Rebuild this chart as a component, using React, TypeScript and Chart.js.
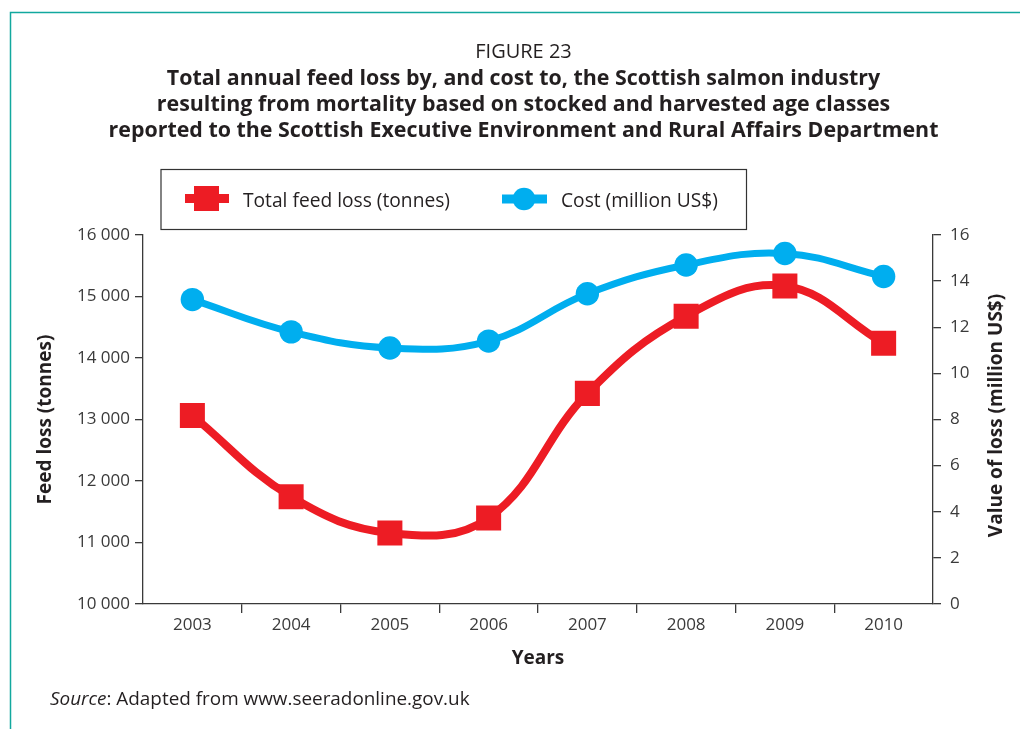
import React, { useEffect, useRef } from 'react';
import { Chart, registerables } from 'chart.js';

Chart.register(...registerables);

// ---------- data ----------
const years = ['2003', '2004', '2005', '2006', '2007', '2008', '2009', '2010'];
const feedLossTonnes = [13065, 11745, 11155, 11400, 13425, 14680, 15170, 14240];
const costMillionUSD = [13.2, 11.8, 11.1, 11.4, 13.45, 14.7, 15.2, 14.2];

const feedAxis = { min: 10000, max: 16000, step: 1000 };
const costAxis = { min: 0, max: 16, step: 2 };

const figureLabel = 'FIGURE 23';
const titleLines = [
  'Total annual feed loss by, and cost to, the Scottish salmon industry',
  'resulting from mortality based on stocked and harvested age classes',
  'reported to the Scottish Executive Environment and Rural Affairs Department',
];
const seriesLabels = ['Total feed loss (tonnes)', 'Cost (million US$)'];
const leftAxisTitle = 'Feed loss (tonnes)';
const rightAxisTitle = 'Value of loss (million US$)';
const xAxisTitle = 'Years';
const sourceItalic = 'Source';
const sourceRest = ': Adapted from www.seeradonline.gov.uk';

// ---------- style ----------
const RED = '#ED1C24';
const BLUE = '#00AEEF';
const TEXT = '#231F20';
const TICK_TEXT = '#3a3a3a';
const AXIS = '#3a3a3a';
const TEAL = '#12A89E';
const FONT = '"Open Sans", "Noto Sans", sans-serif';

const fmtThousands = (v: number) => {
  const s = String(Math.round(v));
  return s.replace(/\B(?=(\d{3})+(?!\d))/g, ' ');
};

const decorPlugin = {
  id: 'decor',
  beforeDraw(chart: any) {
    const ctx = chart.ctx as CanvasRenderingContext2D;
    ctx.save();
    ctx.fillStyle = '#ffffff';
    ctx.fillRect(0, 0, chart.width, chart.height);
    ctx.strokeStyle = TEAL;
    ctx.lineWidth = 1.5;
    ctx.beginPath();
    ctx.moveTo(10.5, chart.height);
    ctx.lineTo(10.5, 12.5);
    ctx.lineTo(chart.width, 12.5);
    ctx.stroke();
    ctx.restore();
  },
  afterDraw(chart: any) {
    const ctx = chart.ctx as CanvasRenderingContext2D;
    const area = chart.chartArea;
    ctx.save();
    ctx.fillStyle = TEXT;
    ctx.textBaseline = 'alphabetic';

    // titles
    const cx = 523.5;
    ctx.textAlign = 'center';
    ctx.font = `20px ${FONT}`;
    ctx.fillText(figureLabel, cx, 58);
    ctx.font = `bold 21.4px ${FONT}`;
    const baselines = [85, 111, 136.5];
    titleLines.forEach((l, i) => ctx.fillText(l, cx, baselines[i]));

    // legend box
    ctx.strokeStyle = '#333333';
    ctx.lineWidth = 1.2;
    ctx.strokeRect(161, 169.5, 585.5, 60);

    const ds = chart.data.datasets;
    const ly = 198.5;
    // red item
    ctx.strokeStyle = ds[0].borderColor;
    ctx.lineWidth = 9;
    ctx.lineCap = 'butt';
    ctx.beginPath();
    ctx.moveTo(185, ly);
    ctx.lineTo(229, ly);
    ctx.stroke();
    ctx.fillStyle = ds[0].pointBackgroundColor;
    ctx.fillRect(206.5 - 12.5, ly - 12.5, 25, 25);
    // blue item
    ctx.strokeStyle = ds[1].borderColor;
    ctx.beginPath();
    ctx.moveTo(502, ly + 0.5);
    ctx.lineTo(547, ly + 0.5);
    ctx.stroke();
    ctx.fillStyle = ds[1].pointBackgroundColor;
    ctx.beginPath();
    ctx.arc(524, ly + 0.5, 11.3, 0, Math.PI * 2);
    ctx.fill();

    ctx.fillStyle = TEXT;
    ctx.textAlign = 'left';
    ctx.font = `19.2px ${FONT}`;
    ctx.fillText(ds[0].label, 243, 206.5);
    ctx.fillText(ds[1].label, 561, 206.5);

    // right axis title (reads bottom-to-top)
    ctx.save();
    ctx.translate(997, (area.top + area.bottom) / 2 - 4);
    ctx.rotate(-Math.PI / 2);
    ctx.textAlign = 'center';
    ctx.textBaseline = 'middle';
    ctx.font = `bold 19px ${FONT}`;
    ctx.fillText(rightAxisTitle, 0, 0);
    ctx.restore();

    // source line
    ctx.textAlign = 'left';
    ctx.font = `italic 18.9px ${FONT}`;
    ctx.fillText(sourceItalic, 50, 705);
    const w = ctx.measureText(sourceItalic).width;
    ctx.font = `18.9px ${FONT}`;
    ctx.fillText(sourceRest, 50 + w, 705);

    ctx.restore();
  },
};

export default function App() {
  const ref = useRef<HTMLCanvasElement>(null);

  useEffect(() => {
    if (!ref.current) return;
    const tickFont = { family: FONT, size: 17 };
    const chart = new Chart(ref.current, {
      type: 'line',
      data: {
        labels: years,
        datasets: [
          {
            label: seriesLabels[0],
            data: feedLossTonnes,
            yAxisID: 'y',
            borderColor: RED,
            backgroundColor: RED,
            pointBackgroundColor: RED,
            borderWidth: 8,
            tension: 0.4,
            pointStyle: 'rect',
            pointRadius: 17.7,
            pointBorderWidth: 0,
            fill: false,
          },
          {
            label: seriesLabels[1],
            data: costMillionUSD,
            yAxisID: 'y1',
            borderColor: BLUE,
            backgroundColor: BLUE,
            pointBackgroundColor: BLUE,
            borderWidth: 7,
            tension: 0.4,
            pointStyle: 'circle',
            pointRadius: 11.7,
            pointBorderWidth: 0,
            fill: false,
          },
        ],
      },
      options: {
        animation: false,
        responsive: true,
        maintainAspectRatio: false,
        events: [],
        layout: { padding: { top: 235, left: 0, right: 0, bottom: 55 } },
        plugins: {
          legend: { display: false },
          title: { display: false },
          tooltip: { enabled: false },
        },
        scales: {
          x: {
            type: 'category',
            offset: true,
            afterFit: (s: any) => {
              s.height = 70;
            },
            grid: {
              offset: true,
              drawOnChartArea: false,
              drawTicks: true,
              tickLength: 9,
              lineWidth: 1.3,
              color: (c: any) => (c.type !== 'tick' || c.index === 0 ? 'rgba(0,0,0,0)' : AXIS),
            },
            border: { display: true, color: AXIS, width: 1.3 },
            ticks: { font: tickFont, color: TICK_TEXT, padding: 2, autoSkip: false, maxRotation: 0 },
            title: {
              display: true,
              text: xAxisTitle,
              color: TEXT,
              font: { family: FONT, size: 19, weight: 'bold' },
              padding: { top: 0, bottom: 4 },
            },
          },
          y: {
            type: 'linear',
            position: 'left',
            min: feedAxis.min,
            max: feedAxis.max,
            afterFit: (s: any) => {
              s.width = 143;
            },
            ticks: {
              stepSize: feedAxis.step,
              font: tickFont,
              color: TICK_TEXT,
              padding: 5,
              callback: (v: any) => fmtThousands(Number(v)),
            },
            grid: { drawOnChartArea: false, drawTicks: true, tickLength: 8, lineWidth: 1.3, color: AXIS },
            border: { display: true, color: AXIS, width: 1.3 },
            title: {
              display: true,
              text: leftAxisTitle,
              color: TEXT,
              font: { family: FONT, size: 19, weight: 'bold' },
              padding: { top: 34.6, bottom: 0 },
            },
          },
          y1: {
            type: 'linear',
            position: 'right',
            min: costAxis.min,
            max: costAxis.max,
            afterFit: (s: any) => {
              s.width = 87;
            },
            ticks: { stepSize: costAxis.step, font: tickFont, color: TICK_TEXT, padding: 9 },
            grid: { drawOnChartArea: false, drawTicks: true, tickLength: 8, lineWidth: 1.3, color: AXIS },
            border: { display: true, color: AXIS, width: 1.3 },
            title: { display: false },
          },
        },
      },
      plugins: [decorPlugin],
    } as any);
    return () => chart.destroy();
  }, []);

  return (
    <div style={{ position: 'fixed', left: 0, top: 0, width: 1020, height: 729, background: '#ffffff' }}>
      <canvas ref={ref} />
    </div>
  );
}
